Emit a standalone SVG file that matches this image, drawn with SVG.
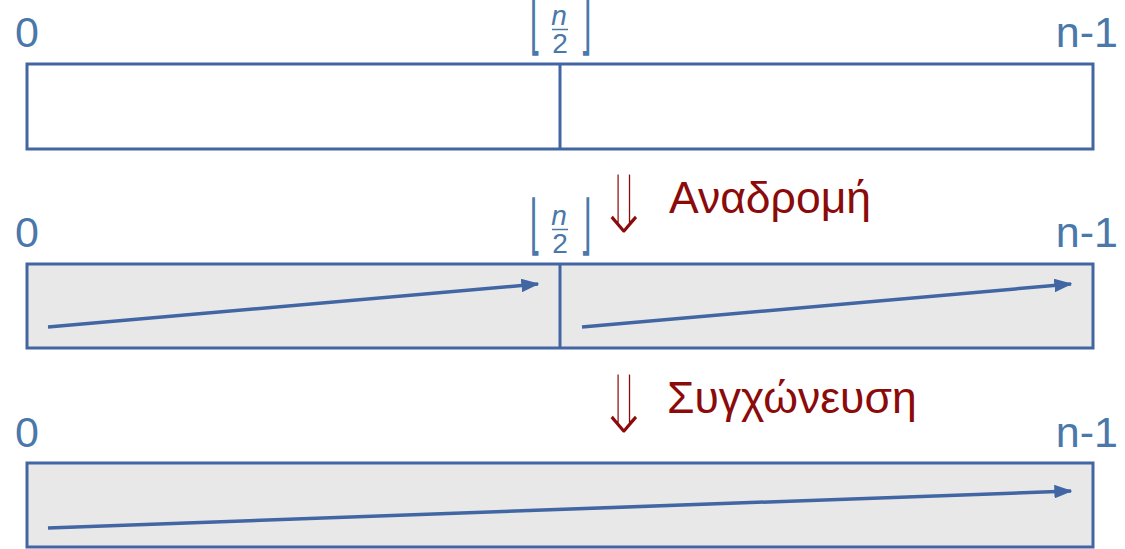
<svg xmlns="http://www.w3.org/2000/svg" width="1125" height="549" viewBox="0 0 1125 549">
  <style>
    .box { fill: #ffffff; stroke: #4166a3; stroke-width: 3; }
    .box.done { fill: #e8e8e8; }
    .split { stroke: #4166a3; stroke-width: 3; }
    .idx { font-family: "Liberation Sans", Arial, sans-serif; font-size: 43px; fill: #4a78aa; }
    .step { font-family: "Liberation Sans", Arial, sans-serif; font-size: 44.5px; fill: #8b0a0a; }
    /* tall, thin double arrow: glyph edges trimmed by a white outline */
    .dbl { font-family: "DejaVu Sans", sans-serif; font-size: 40px; fill: #8b0a0a; stroke: #ffffff; stroke-width: 1.6; text-anchor: middle; }
    .frac { font-family: "Liberation Sans", Arial, sans-serif; font-size: 28px; fill: #4a78aa; text-anchor: middle; }
    .flr { font-family: "DejaVu Sans", sans-serif; font-size: 40px; fill: #4a78aa; }
    .sorted { stroke: #4166a3; stroke-width: 3.5; fill: none; marker-end: url(#head); }
  </style>
  <defs>
    <marker id="head" viewBox="0 0 12 9" refX="11" refY="4.5" markerWidth="5.2" markerHeight="3.9" markerUnits="strokeWidth" orient="auto">
      <path d="M0,0 L12,4.5 L0,9 Z" fill="#4166a3"/>
    </marker>
  </defs>

  <!-- top row: unsplit array -->
  <g id="row1">
    <text class="idx" x="15" y="47">0</text>
    <text class="idx" x="1118" y="47" text-anchor="end">n-1</text>
    <g id="floor1">
      <text class="flr" transform="translate(529.5,46.5) scale(0.75,1.64)">⌊</text>
      <text class="flr" transform="translate(580,46.5) scale(0.75,1.64)">⌋</text>
      <text class="frac" x="559" y="25" font-style="italic">n</text>
      <line x1="552" y1="29.5" x2="568" y2="29.5" stroke="#4a78aa" stroke-width="1.5"/>
      <text class="frac" x="560" y="53">2</text>
    </g>
    <rect class="box" x="27" y="64" width="1066" height="85"/>
    <line class="split" x1="560" y1="64" x2="560" y2="149"/>
  </g>

  <!-- recursion step label -->
  <g id="step1">
    <text class="dbl" transform="translate(624,234) scale(1.8,2.1)">⇓</text>
    <text class="step" x="669" y="213">Αναδρομή</text>
  </g>

  <!-- middle row: both halves sorted -->
  <g id="row2">
    <text class="idx" x="15" y="247">0</text>
    <text class="idx" x="1118" y="247" text-anchor="end">n-1</text>
    <g id="floor2">
      <text class="flr" transform="translate(529.5,246.5) scale(0.75,1.64)">⌊</text>
      <text class="flr" transform="translate(580,246.5) scale(0.75,1.64)">⌋</text>
      <text class="frac" x="559" y="225" font-style="italic">n</text>
      <line x1="552" y1="229.5" x2="568" y2="229.5" stroke="#4a78aa" stroke-width="1.5"/>
      <text class="frac" x="560" y="253">2</text>
    </g>
    <rect class="box done" x="27" y="264" width="1066" height="84"/>
    <line class="split" x1="560" y1="264" x2="560" y2="348"/>
  </g>

  <!-- merge step label -->
  <g id="step2">
    <text class="dbl" transform="translate(624,434) scale(1.8,2.1)">⇓</text>
    <text class="step" x="667" y="413">Συγχώνευση</text>
  </g>

  <!-- bottom row: merged array -->
  <g id="row3">
    <text class="idx" x="15" y="447">0</text>
    <text class="idx" x="1118" y="447" text-anchor="end">n-1</text>
    <rect class="box done" x="27" y="463" width="1066" height="84"/>
  </g>

  <!-- order arrows inside the arrays -->
  <g id="connectors">
    <line class="sorted" x1="48" y1="327" x2="538" y2="284"/>
    <line class="sorted" x1="582" y1="327" x2="1071" y2="284"/>
    <line class="sorted" x1="48" y1="528" x2="1071" y2="491"/>
  </g>
</svg>
